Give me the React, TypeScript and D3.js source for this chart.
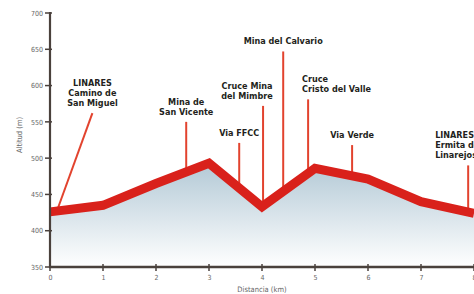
import React, { useEffect, useRef } from 'react';
import * as d3 from 'd3';

// perfil de altitud
const distKm = [0, 1, 2, 3, 4, 5, 6, 7, 8];
const altitud = [426, 435, 465, 493, 433, 486, 471, 440, 424];

const yTicks = [350, 400, 450, 500, 550, 600, 650, 700];
const xTicks = [0, 1, 2, 3, 4, 5, 6, 7, 8];

// puntos de interés: km de la base, km de la cima, altitud de la cima
const poiNames = [
  ['LINARES', 'Camino de', 'San Miguel'],
  ['Mina de', 'San Vicente'],
  ['Via FFCC'],
  ['Cruce Mina', 'del Mimbre'],
  ['Mina del Calvario'],
  ['Cruce', 'Cristo del Valle'],
  ['Via Verde'],
  ['LINARES', 'Ermita de', 'Linarejos'],
];
const poiBaseKm = [0.13, 2.57, 3.57, 4.02, 4.4, 4.87, 5.7, 7.89];
const poiTopKm = [0.8, 2.57, 3.57, 4.02, 4.4, 4.87, 5.7, 7.89];
const poiTopAlt = [562, 550, 521, 572, 647, 581, 518, 490];
const poiAnchor = ['middle', 'middle', 'middle', 'middle', 'middle', 'start', 'middle', 'start'];
const poiLabelDx = [0, 0, 0, -16, 0, -6, 0, -33];

const App = () => {
  const chartRef = useRef<SVGSVGElement>(null);

  useEffect(() => {
    const svg = d3.select(chartRef.current).attr('width', 474).attr('height', 294);
    svg.selectAll('*').remove();

    const margin = { top: 13, right: 0, bottom: 27, left: 50 };
    const width = 474 - margin.left - margin.right;
    const height = 294 - margin.top - margin.bottom;

    const x = d3.scaleLinear().domain([0, 8]).range([0, width]);
    const y = d3.scaleLinear().domain([350, 700]).range([height, 0]);

    const defs = svg.append('defs');
    const grad = defs
      .append('linearGradient')
      .attr('id', 'relleno')
      .attr('x1', 0)
      .attr('y1', 0)
      .attr('x2', 0)
      .attr('y2', 1);
    grad.append('stop').attr('offset', '0%').attr('stop-color', '#b3c9d6');
    grad.append('stop').attr('offset', '100%').attr('stop-color', '#ffffff');

    const chart = svg.append('g').attr('transform', `translate(${margin.left},${margin.top})`);

    const pts = distKm.map((d, i) => [d, altitud[i]] as [number, number]);

    const area = d3
      .area<[number, number]>()
      .x((d) => x(d[0]))
      .y0(height)
      .y1((d) => y(d[1]));
    chart.append('path').datum(pts).attr('d', area).attr('fill', 'url(#relleno)');

    const altAt = (km: number) => {
      const i = Math.min(Math.floor(km), distKm.length - 2);
      const t = km - distKm[i];
      return altitud[i] + (altitud[i + 1] - altitud[i]) * t;
    };

    // líneas de los puntos de interés
    poiNames.forEach((lines, i) => {
      chart
        .append('line')
        .attr('x1', x(poiBaseKm[i]))
        .attr('y1', y(altAt(poiBaseKm[i])))
        .attr('x2', x(poiTopKm[i]))
        .attr('y2', y(poiTopAlt[i]))
        .attr('stroke', '#e2432e')
        .attr('stroke-width', 2);

      const lh = 10;
      const tx = x(poiTopKm[i]) + poiLabelDx[i];
      const lastBase = y(poiTopAlt[i]) - 7;
      const text = chart
        .append('text')
        .attr('text-anchor', poiAnchor[i])
        .attr('font-family', '"Liberation Sans Narrow", "DejaVu Sans Condensed", "Liberation Sans", sans-serif')
        .attr('font-weight', 'bold')
        .attr('font-size', 9)
        .attr('fill', '#231f20');
      lines.forEach((l, j) => {
        text
          .append('tspan')
          .attr('x', tx)
          .attr('y', lastBase - (lines.length - 1 - j) * lh)
          .text(l);
      });
    });

    // perfil
    const line = d3
      .line<[number, number]>()
      .x((d) => x(d[0]))
      .y((d) => y(d[1]));
    chart
      .append('path')
      .datum(pts)
      .attr('d', line)
      .attr('fill', 'none')
      .attr('stroke', '#d9211b')
      .attr('stroke-width', 9)
      .attr('stroke-linejoin', 'miter');

    const tickFont = '"Liberation Sans Narrow", "DejaVu Sans Condensed", sans-serif';

    // eje Y
    const yAxis = chart.append('g').call(d3.axisLeft(y).tickValues(yTicks).tickSize(0).tickPadding(7));
    yAxis.select('.domain').remove();
    yAxis.selectAll('text').attr('font-family', tickFont).attr('font-size', 7).attr('fill', '#666');
    chart
      .append('g')
      .selectAll('line')
      .data(yTicks)
      .enter()
      .append('line')
      .attr('x1', -5)
      .attr('x2', 2)
      .attr('y1', (d) => y(d))
      .attr('y2', (d) => y(d))
      .attr('stroke', '#4a413c')
      .attr('stroke-width', 1.5);
    chart
      .append('line')
      .attr('x1', 0)
      .attr('x2', 0)
      .attr('y1', y(700) - 1)
      .attr('y2', height + 1)
      .attr('stroke', '#4a413c')
      .attr('stroke-width', 2.2);

    // eje X
    const xAxis = chart
      .append('g')
      .attr('transform', `translate(0,${height})`)
      .call(d3.axisBottom(x).tickValues(xTicks).tickSize(0).tickPadding(8).tickFormat(d3.format('d')));
    xAxis.select('.domain').remove();
    xAxis.selectAll('text').attr('font-family', tickFont).attr('font-size', 7).attr('fill', '#666');
    chart
      .append('g')
      .selectAll('line')
      .data(xTicks)
      .enter()
      .append('line')
      .attr('x1', (d) => x(d))
      .attr('x2', (d) => x(d))
      .attr('y1', height - 3)
      .attr('y2', height + 4)
      .attr('stroke', '#4a413c')
      .attr('stroke-width', 1.5);
    chart
      .append('line')
      .attr('x1', -1)
      .attr('x2', width)
      .attr('y1', height)
      .attr('y2', height)
      .attr('stroke', '#4a413c')
      .attr('stroke-width', 2.5);

    svg
      .append('text')
      .attr('x', margin.left + x(4))
      .attr('y', 292)
      .attr('text-anchor', 'middle')
      .attr('font-family', tickFont)
      .attr('font-size', 7.5)
      .attr('fill', '#666')
      .text('Distancia (km)');

    svg
      .append('text')
      .attr('transform', 'translate(22,135) rotate(-90)')
      .attr('text-anchor', 'middle')
      .attr('font-family', tickFont)
      .attr('font-size', 7.5)
      .attr('fill', '#666')
      .text('Altitud (m)');
  }, []);

  return <svg ref={chartRef} style={{ position: 'absolute', left: 0, top: 0 }}></svg>;
};

export default App;
